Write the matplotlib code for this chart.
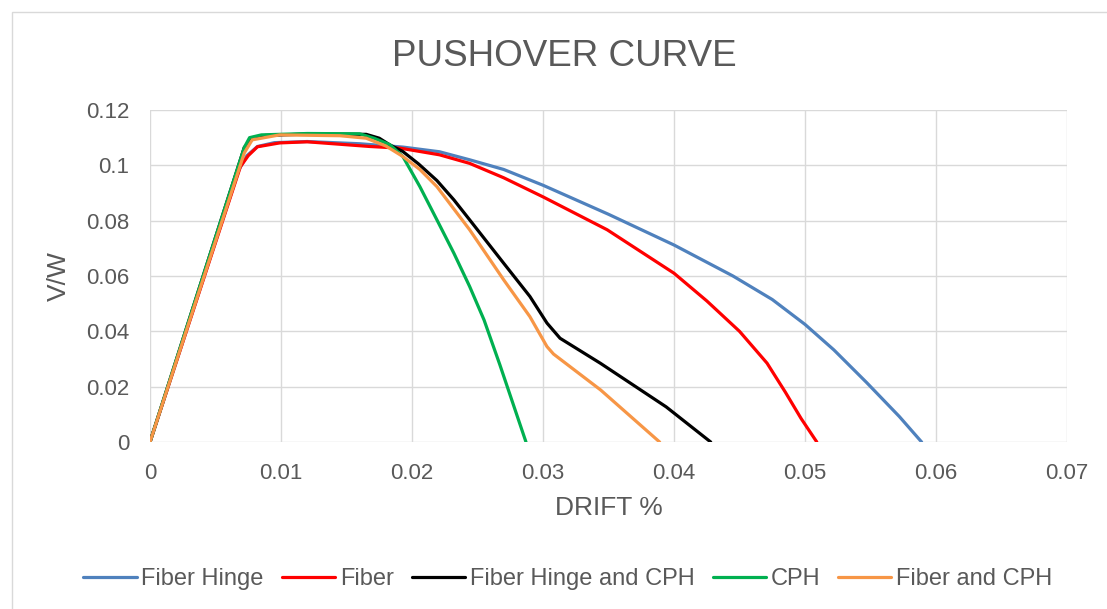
import matplotlib.pyplot as plt
from matplotlib.patches import Rectangle
from matplotlib.ticker import FuncFormatter, MultipleLocator

plt.rcParams['font.family'] = ['Liberation Sans', 'DejaVu Sans']

# datos (deriva, V/W)
fiber_hinge_x = [0, 0.0068, 0.0074, 0.0082, 0.0095, 0.012, 0.016, 0.0193, 0.0221, 0.0244,
                 0.027, 0.030, 0.035, 0.040, 0.0445, 0.0475, 0.050, 0.0522, 0.0547, 0.0572, 0.0589]
fiber_hinge_y = [0, 0.0985, 0.1035, 0.1068, 0.1082, 0.1086, 0.1078, 0.1066, 0.1049, 0.102,
                 0.0985, 0.0928, 0.0823, 0.0712, 0.0600, 0.0515, 0.0425, 0.0333, 0.0215, 0.0092, 0]

fiber_x = [0, 0.0069, 0.0075, 0.0082, 0.0099, 0.012, 0.0168, 0.0191, 0.0221, 0.0244, 0.027,
           0.030, 0.0349, 0.040, 0.0425, 0.045, 0.0471, 0.0485, 0.0497, 0.0509]
fiber_y = [0, 0.0995, 0.1035, 0.1067, 0.1081, 0.1085, 0.1068, 0.1062, 0.1038, 0.1007, 0.0955,
           0.0886, 0.0767, 0.0610, 0.0510, 0.0400, 0.0285, 0.0180, 0.0085, 0]

fh_cph_x = [0, 0.0072, 0.0078, 0.0088, 0.012, 0.0165, 0.0175, 0.0183, 0.0193, 0.0205, 0.0219,
            0.0232, 0.0244, 0.027, 0.029, 0.0303, 0.0313, 0.0344, 0.0394, 0.0428]
fh_cph_y = [0, 0.1065, 0.1095, 0.1108, 0.1113, 0.1112, 0.1098, 0.1074, 0.105, 0.1005, 0.0945,
            0.0875, 0.0803, 0.0646, 0.0526, 0.0430, 0.0375, 0.0284, 0.0127, 0]

cph_x = [0, 0.0072, 0.0076, 0.0085, 0.012, 0.016, 0.0171, 0.0183, 0.0193, 0.0206, 0.0219,
         0.0232, 0.0244, 0.0255, 0.0267, 0.0287]
cph_y = [0, 0.1065, 0.110, 0.1110, 0.1115, 0.1114, 0.1098, 0.1075, 0.1032, 0.0923, 0.0803,
         0.0682, 0.0562, 0.0441, 0.028, 0]

fiber_cph_x = [0, 0.0072, 0.0078, 0.0099, 0.0145, 0.0165, 0.018, 0.0193, 0.0206, 0.0219,
               0.0244, 0.027, 0.029, 0.0303, 0.0308, 0.0344, 0.0389]
fiber_cph_y = [0, 0.1045, 0.1092, 0.111, 0.1107, 0.1098, 0.1070, 0.1032, 0.0985, 0.0923,
               0.0767, 0.0586, 0.0453, 0.0345, 0.0318, 0.0188, 0]

series = [
    ("Fiber Hinge", fiber_hinge_x, fiber_hinge_y, "#4F81BD"),
    ("Fiber", fiber_x, fiber_y, "#FF0000"),
    ("Fiber Hinge and CPH", fh_cph_x, fh_cph_y, "#000000"),
    ("CPH", cph_x, cph_y, "#00B050"),
    ("Fiber and CPH", fiber_cph_x, fiber_cph_y, "#F79646"),
]

fig = plt.figure(figsize=(11.07, 6.09), dpi=100)
ax = fig.add_axes([0.1355, 0.2742, 0.8284, 0.5452])

for nombre, xs, ys, col in series:
    ax.plot(xs, ys, color=col, lw=2.3, label=nombre, solid_joinstyle='round',
            solid_capstyle='round')

ax.set_xlim(0, 0.07)
ax.set_ylim(0, 0.12)
ax.xaxis.set_major_locator(MultipleLocator(0.01))
ax.yaxis.set_major_locator(MultipleLocator(0.02))
fmt = FuncFormatter(lambda v, p: "0" if abs(v) < 1e-9 else f"{v:.2f}".rstrip("0"))
ax.xaxis.set_major_formatter(fmt)
ax.yaxis.set_major_formatter(fmt)
ax.grid(True, color="#D9D9D9", lw=1.0)
ax.set_axisbelow(True)
for s in ax.spines.values():
    s.set_visible(False)
ax.tick_params(length=0, labelsize=16, labelcolor="#595959", pad=15)

fig.text(0.5095, 1 - 57 / 609, "PUSHOVER CURVE", fontsize=26.5, color="#595959",
         ha="center", va="center")
ax.set_xlabel("DRIFT %", fontsize=19, color="#595959", va="center")
ax.xaxis.set_label_coords(0.5, -0.2)
ax.set_ylabel("V/W", fontsize=19, color="#595959", va="center")
ax.yaxis.set_label_coords(-0.099, 0.5)

fig.legend(loc="center", bbox_to_anchor=(0.513, 0.049), ncol=5, frameon=False,
           fontsize=17, labelcolor="#595959", handlelength=2.25, columnspacing=0.77,
           handletextpad=0.2)

# marco del gráfico
fig.patches.append(Rectangle((12 / 1107, -0.1), 1.2, (609 - 12) / 609 + 0.1,
                             transform=fig.transFigure, fill=False,
                             edgecolor="#D9D9D9", lw=1.0))

fig.savefig("out.png", dpi=100)
